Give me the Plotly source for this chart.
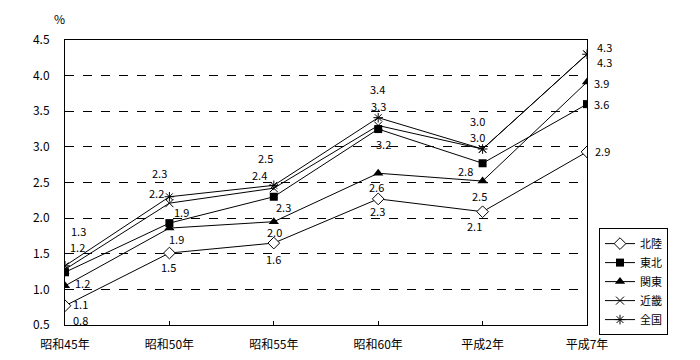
import plotly.graph_objects as go

years = ["昭和45年", "昭和50年", "昭和55年", "昭和60年", "平成2年", "平成7年"]

hokuriku = [0.77, 1.51, 1.65, 2.27, 2.09, 2.93]
tohoku = [1.24, 1.93, 2.30, 3.25, 2.77, 3.60]
kanto = [1.05, 1.86, 1.95, 2.63, 2.52, 3.91]
kinki = [1.28, 2.21, 2.42, 3.30, 2.97, 4.30]
zenkoku = [1.33, 2.30, 2.46, 3.41, 2.97, 4.30]

hokuriku_lbl = ["0.8", "1.5", "1.6", "2.3", "2.1", "2.9"]
tohoku_lbl = ["1.2", "1.9", "2.3", "3.2", "2.8", "3.6"]
kanto_lbl = ["1.1", "1.9", "2.0", "2.6", "2.5", "3.9"]
kinki_lbl = ["1.2", "2.2", "2.4", "3.3", "3.0", "4.3"]
zenkoku_lbl = ["1.3", "2.3", "2.5", "3.4", "3.0", "4.3"]

# label offsets in screen pixels (dx right, dy down)
hokuriku_off = [(15, 14), (-1, 14), (0, 16), (-1, 12), (-8, 14), (15, -1)]
tohoku_off = [(17, 11), (12, -11), (10, 10), (5, 15), (-17, 8), (14, 0)]
kanto_off = [(15, 18), (7, 11), (1, 10), (-2, 14), (-3, 15), (14, 1)]
kinki_off = [(12, -22), (-13, -10), (-14, -13), (0, -20), (-5, -12), (17, 8)]
zenkoku_off = [(13, -35), (-10, -24), (-8, -27), (-1, -29), (-5, -28), (17, -7)]

FONT = "Noto Sans CJK JP"

series = [
    ("北陸", hokuriku, hokuriku_lbl, hokuriku_off,
     dict(symbol="diamond", size=9, color="white", line=dict(color="black", width=1))),
    ("東北", tohoku, tohoku_lbl, tohoku_off,
     dict(symbol="square", size=8, color="black", line=dict(color="black", width=0))),
    ("関東", kanto, kanto_lbl, kanto_off,
     dict(symbol="triangle-up", size=9, color="black", line=dict(color="black", width=0))),
    ("近畿", kinki, kinki_lbl, kinki_off,
     dict(symbol="x-thin-open", size=8, color="black", line=dict(color="black", width=1))),
    ("全国", zenkoku, zenkoku_lbl, zenkoku_off,
     dict(symbol="asterisk-open", size=8, color="black", line=dict(color="black", width=1))),
]

fig = go.Figure()
annotations = []
for name, vals, lbls, offs, mk in series:
    fig.add_trace(go.Scatter(
        x=years, y=vals, name=name, mode="lines+markers",
        line=dict(color="black", width=1), marker=mk,
    ))
    for xv, yv, t, (dx, dy) in zip(years, vals, lbls, offs):
        annotations.append(dict(
            x=xv, y=yv, xref="x", yref="y", text=t, showarrow=False,
            xanchor="center", yanchor="middle", borderpad=0,
            xshift=dx, yshift=-dy, font=dict(family=FONT, size=11, color="black"),
        ))

annotations.append(dict(
    x=-0.01, y=1.074, xref="paper", yref="paper", text="%", showarrow=False,
    xanchor="center", yanchor="middle",
    font=dict(family=FONT, size=12, color="black"),
))

# page body has an 8px default margin, so the figure is 8px smaller
fig.update_layout(
    width=692, height=352,
    margin=dict(l=57, r=113, t=32, b=35, autoexpand=False),
    paper_bgcolor="white", plot_bgcolor="white",
    font=dict(family=FONT, size=12, color="black"),
    annotations=annotations,
    legend=dict(
        x=1.023, y=0.34, xanchor="left", yanchor="top",
        bordercolor="black", borderwidth=1, bgcolor="white",
        font=dict(family=FONT, size=11, color="black"),
        itemwidth=30, tracegroupgap=0,
    ),
    showlegend=True,
)
fig.update_xaxes(
    type="category", range=[0, 5], automargin=False,
    showline=True, linecolor="black", linewidth=1, mirror=True,
    showgrid=False, ticks="inside", ticklen=4, tickcolor="black",
    ticklabelstandoff=9,
    tickfont=dict(family=FONT, size=12, color="black"),
)
fig.update_yaxes(
    range=[0.5, 4.5], dtick=0.5, tickformat=".1f", automargin=False,
    showline=True, linecolor="black", linewidth=1, mirror=True,
    showgrid=True, gridcolor="black", gridwidth=1, griddash="dash",
    zeroline=False, ticks="", ticklabelstandoff=12,
    tickfont=dict(family=FONT, size=12, color="black"),
)

fig.write_html("out.html")
